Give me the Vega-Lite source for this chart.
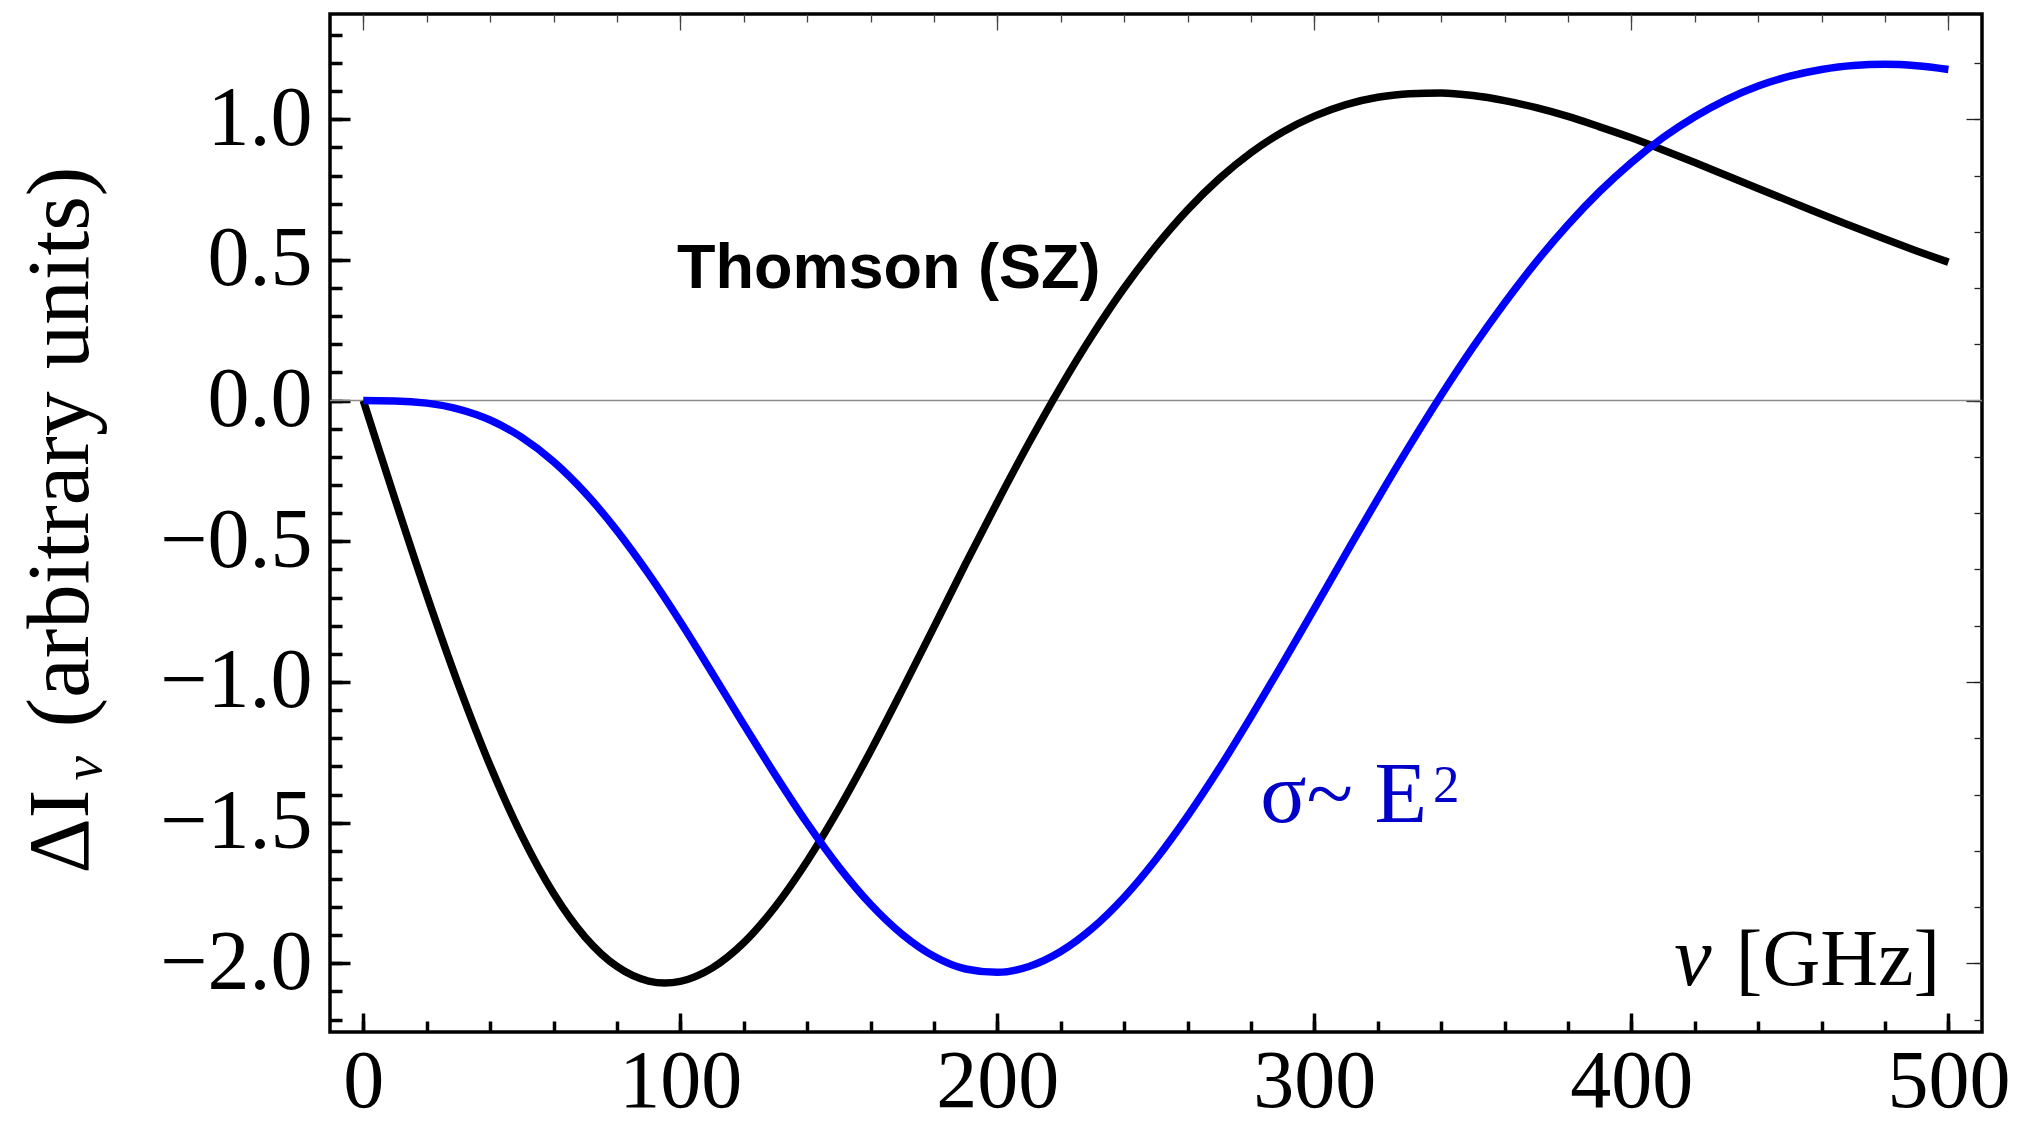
{
  "$schema": "https://vega.github.io/schema/vega-lite/v6.json",
  "width": 1652,
  "height": 1018,
  "autosize": "none",
  "padding": {"left": 330, "top": 14, "right": 41, "bottom": 91},
  "background": "#ffffff",
  "config": {
    "view": {"stroke": "#000000", "strokeWidth": 3.5},
    "axis": {"domain": false, "grid": false, "labelFont": "Liberation Serif", "labelFontSize": 84, "labelColor": "#000000", "titleColor": "#000000", "labelFlush": false}
  },
  "datasets": {
    "curves": [
      {"nu": 0, "v": 0, "s": "Thomson"},
      {"nu": 5, "v": -0.176, "s": "Thomson"},
      {"nu": 10, "v": -0.350, "s": "Thomson"},
      {"nu": 20, "v": -0.690, "s": "Thomson"},
      {"nu": 30, "v": -1.009, "s": "Thomson"},
      {"nu": 40, "v": -1.297, "s": "Thomson"},
      {"nu": 50, "v": -1.546, "s": "Thomson"},
      {"nu": 60, "v": -1.751, "s": "Thomson"},
      {"nu": 70, "v": -1.907, "s": "Thomson"},
      {"nu": 80, "v": -2.011, "s": "Thomson"},
      {"nu": 90, "v": -2.063, "s": "Thomson"},
      {"nu": 95, "v": -2.070, "s": "Thomson"},
      {"nu": 100, "v": -2.064, "s": "Thomson"},
      {"nu": 110, "v": -2.017, "s": "Thomson"},
      {"nu": 120, "v": -1.927, "s": "Thomson"},
      {"nu": 130, "v": -1.798, "s": "Thomson"},
      {"nu": 140, "v": -1.637, "s": "Thomson"},
      {"nu": 150, "v": -1.451, "s": "Thomson"},
      {"nu": 160, "v": -1.246, "s": "Thomson"},
      {"nu": 170, "v": -1.028, "s": "Thomson"},
      {"nu": 180, "v": -0.805, "s": "Thomson"},
      {"nu": 190, "v": -0.580, "s": "Thomson"},
      {"nu": 200, "v": -0.361, "s": "Thomson"},
      {"nu": 210, "v": -0.150, "s": "Thomson"},
      {"nu": 220, "v": 0.049, "s": "Thomson"},
      {"nu": 230, "v": 0.233, "s": "Thomson"},
      {"nu": 240, "v": 0.400, "s": "Thomson"},
      {"nu": 250, "v": 0.548, "s": "Thomson"},
      {"nu": 260, "v": 0.678, "s": "Thomson"},
      {"nu": 270, "v": 0.789, "s": "Thomson"},
      {"nu": 280, "v": 0.881, "s": "Thomson"},
      {"nu": 290, "v": 0.955, "s": "Thomson"},
      {"nu": 300, "v": 1.011, "s": "Thomson"},
      {"nu": 310, "v": 1.052, "s": "Thomson"},
      {"nu": 320, "v": 1.078, "s": "Thomson"},
      {"nu": 330, "v": 1.091, "s": "Thomson"},
      {"nu": 340, "v": 1.093, "s": "Thomson"},
      {"nu": 350, "v": 1.084, "s": "Thomson"},
      {"nu": 360, "v": 1.066, "s": "Thomson"},
      {"nu": 370, "v": 1.041, "s": "Thomson"},
      {"nu": 380, "v": 1.010, "s": "Thomson"},
      {"nu": 390, "v": 0.973, "s": "Thomson"},
      {"nu": 400, "v": 0.934, "s": "Thomson"},
      {"nu": 410, "v": 0.891, "s": "Thomson"},
      {"nu": 420, "v": 0.846, "s": "Thomson"},
      {"nu": 430, "v": 0.800, "s": "Thomson"},
      {"nu": 440, "v": 0.754, "s": "Thomson"},
      {"nu": 450, "v": 0.708, "s": "Thomson"},
      {"nu": 460, "v": 0.662, "s": "Thomson"},
      {"nu": 470, "v": 0.618, "s": "Thomson"},
      {"nu": 480, "v": 0.574, "s": "Thomson"},
      {"nu": 490, "v": 0.532, "s": "Thomson"},
      {"nu": 500, "v": 0.492, "s": "Thomson"},
      {"nu": 0, "v": 0, "s": "E2"},
      {"nu": 10, "v": -0.001, "s": "E2"},
      {"nu": 20, "v": -0.009, "s": "E2"},
      {"nu": 30, "v": -0.030, "s": "E2"},
      {"nu": 40, "v": -0.069, "s": "E2"},
      {"nu": 50, "v": -0.131, "s": "E2"},
      {"nu": 60, "v": -0.217, "s": "E2"},
      {"nu": 70, "v": -0.328, "s": "E2"},
      {"nu": 80, "v": -0.462, "s": "E2"},
      {"nu": 90, "v": -0.616, "s": "E2"},
      {"nu": 100, "v": -0.786, "s": "E2"},
      {"nu": 110, "v": -0.967, "s": "E2"},
      {"nu": 120, "v": -1.151, "s": "E2"},
      {"nu": 130, "v": -1.331, "s": "E2"},
      {"nu": 140, "v": -1.502, "s": "E2"},
      {"nu": 150, "v": -1.657, "s": "E2"},
      {"nu": 160, "v": -1.790, "s": "E2"},
      {"nu": 170, "v": -1.897, "s": "E2"},
      {"nu": 180, "v": -1.975, "s": "E2"},
      {"nu": 190, "v": -2.020, "s": "E2"},
      {"nu": 200, "v": -2.032, "s": "E2"},
      {"nu": 210, "v": -2.011, "s": "E2"},
      {"nu": 220, "v": -1.958, "s": "E2"},
      {"nu": 230, "v": -1.875, "s": "E2"},
      {"nu": 240, "v": -1.765, "s": "E2"},
      {"nu": 250, "v": -1.631, "s": "E2"},
      {"nu": 260, "v": -1.477, "s": "E2"},
      {"nu": 270, "v": -1.307, "s": "E2"},
      {"nu": 280, "v": -1.124, "s": "E2"},
      {"nu": 290, "v": -0.934, "s": "E2"},
      {"nu": 300, "v": -0.739, "s": "E2"},
      {"nu": 310, "v": -0.543, "s": "E2"},
      {"nu": 320, "v": -0.349, "s": "E2"},
      {"nu": 330, "v": -0.161, "s": "E2"},
      {"nu": 340, "v": 0.019, "s": "E2"},
      {"nu": 350, "v": 0.189, "s": "E2"},
      {"nu": 360, "v": 0.347, "s": "E2"},
      {"nu": 370, "v": 0.493, "s": "E2"},
      {"nu": 380, "v": 0.625, "s": "E2"},
      {"nu": 390, "v": 0.743, "s": "E2"},
      {"nu": 400, "v": 0.846, "s": "E2"},
      {"nu": 410, "v": 0.935, "s": "E2"},
      {"nu": 420, "v": 1.009, "s": "E2"},
      {"nu": 430, "v": 1.070, "s": "E2"},
      {"nu": 440, "v": 1.118, "s": "E2"},
      {"nu": 450, "v": 1.153, "s": "E2"},
      {"nu": 460, "v": 1.177, "s": "E2"},
      {"nu": 470, "v": 1.191, "s": "E2"},
      {"nu": 480, "v": 1.195, "s": "E2"},
      {"nu": 490, "v": 1.190, "s": "E2"},
      {"nu": 500, "v": 1.177, "s": "E2"}
    ]
  },
  "layer": [
    {
      "data": {"values": [{"v": 0}]},
      "mark": {"type": "rule", "color": "#8c8c8c", "strokeWidth": 1.5},
      "encoding": {
        "y": {"field": "v", "type": "quantitative", "scale": {"domain": [-2.244, 1.374], "nice": false, "zero": false}, "axis": null}
      }
    },
    {
      "data": {"name": "curves"},
      "mark": {"type": "line", "strokeWidth": 7.5, "interpolate": "monotone"},
      "encoding": {
        "x": {"field": "nu", "type": "quantitative", "scale": {"domain": [-10.5, 510.6], "nice": false, "zero": false},
          "axis": {"orient": "bottom", "values": [0, 100, 200, 300, 400, 500], "format": "d", "ticks": false, "tickSize": 0, "labelPadding": 9, "labelFontSize": 82, "title": null}},
        "y": {"field": "v", "type": "quantitative", "scale": {"domain": [-2.244, 1.374], "nice": false, "zero": false},
          "axis": {"orient": "left", "values": [-2, -1.5, -1, -0.5, 0, 0.5, 1], "format": ".1f", "ticks": false, "tickSize": 0, "labelPadding": 18,
            "title": "ΔI", "titleFont": "Liberation Serif", "titleFontSize": 86, "titleFontWeight": "normal", "titleAngle": 270, "titleAlign": "left", "titleBaseline": "alphabetic", "titleX": -243, "titleY": 859}},
        "color": {"field": "s", "type": "nominal", "scale": {"domain": ["Thomson", "E2"], "range": ["#000000", "#0000ff"]}, "legend": null},
        "order": {"field": "nu", "type": "quantitative"}
      }
    },
    {
      "data": {"name": "curves"},
      "mark": {"type": "point", "opacity": 0},
      "encoding": {
        "x": {"field": "nu", "type": "quantitative", "scale": {"domain": [-10.5, 510.6], "nice": false, "zero": false},
          "axis": {"orient": "bottom", "values": [0, 20, 40, 60, 80, 100, 120, 140, 160, 180, 200, 220, 240, 260, 280, 300, 320, 340, 360, 380, 400, 420, 440, 460, 480, 500], "labels": false, "title": null, "tickSize": 11, "offset": -11, "tickWidth": 3.5, "tickColor": "#000000"}},
        "y": {"field": "v", "type": "quantitative", "scale": {"domain": [-2.244, 1.374], "nice": false, "zero": false},
          "axis": {"orient": "left", "values": [-2.2, -2.1, -2.0, -1.9, -1.8, -1.7, -1.6, -1.5, -1.4, -1.3, -1.2, -1.1, -1.0, -0.9, -0.8, -0.7, -0.6, -0.5, -0.4, -0.3, -0.2, -0.1, 0, 0.1, 0.2, 0.3, 0.4, 0.5, 0.6, 0.7, 0.8, 0.9, 1.0, 1.1, 1.2, 1.3], "labels": false, "title": null, "tickSize": 12, "offset": -12, "tickWidth": 3.5, "tickColor": "#000000"}}
      }
    },
    {
      "data": {"name": "curves"},
      "mark": {"type": "point", "opacity": 0},
      "encoding": {
        "x": {"field": "nu", "type": "quantitative", "scale": {"domain": [-10.5, 510.6], "nice": false, "zero": false},
          "axis": {"orient": "bottom", "values": [0, 100, 200, 300, 400, 500], "labels": false, "title": null, "tickSize": 19, "offset": -19, "tickWidth": 3.5, "tickColor": "#000000"}},
        "y": {"field": "v", "type": "quantitative", "scale": {"domain": [-2.244, 1.374], "nice": false, "zero": false},
          "axis": {"orient": "left", "values": [-2, -1.5, -1, -0.5, 0, 0.5, 1], "labels": false, "title": null, "tickSize": 20, "offset": -20, "tickWidth": 3.5, "tickColor": "#000000"}}
      }
    },
    {
      "data": {"name": "curves"},
      "mark": {"type": "point", "opacity": 0},
      "encoding": {
        "x": {"field": "nu", "type": "quantitative", "scale": {"domain": [-10.5, 510.6], "nice": false, "zero": false},
          "axis": {"orient": "top", "values": [0, 20, 40, 60, 80, 100, 120, 140, 160, 180, 200, 220, 240, 260, 280, 300, 320, 340, 360, 380, 400, 420, 440, 460, 480, 500], "labels": false, "title": null, "tickSize": 8, "offset": -8, "tickWidth": 1.3, "tickColor": "#444444"}},
        "y": {"field": "v", "type": "quantitative", "scale": {"domain": [-2.244, 1.374], "nice": false, "zero": false},
          "axis": {"orient": "right", "values": [-2.2, -2.0, -1.8, -1.6, -1.4, -1.2, -1.0, -0.8, -0.6, -0.4, -0.2, 0, 0.2, 0.4, 0.6, 0.8, 1.0, 1.2], "labels": false, "title": null, "tickSize": 8, "offset": -8, "tickWidth": 1.3, "tickColor": "#222222"}}
      }
    },
    {
      "data": {"name": "curves"},
      "mark": {"type": "point", "opacity": 0},
      "encoding": {
        "x": {"field": "nu", "type": "quantitative", "scale": {"domain": [-10.5, 510.6], "nice": false, "zero": false},
          "axis": {"orient": "top", "values": [0, 100, 200, 300, 400, 500], "labels": false, "title": null, "tickSize": 16, "offset": -16, "tickWidth": 1.3, "tickColor": "#444444"}},
        "y": {"field": "v", "type": "quantitative", "scale": {"domain": [-2.244, 1.374], "nice": false, "zero": false},
          "axis": {"orient": "right", "values": [-2, -1, 0, 1], "labels": false, "title": null, "tickSize": 16, "offset": -16, "tickWidth": 1.3, "tickColor": "#222222"}}
      }
    },
    {
      "data": {"name": "curves"},
      "mark": {"type": "point", "opacity": 0},
      "encoding": {
        "x": {"field": "nu", "type": "quantitative", "scale": {"domain": [-10.5, 510.6], "nice": false, "zero": false}, "axis": null},
        "y": {"field": "v", "type": "quantitative", "scale": {"domain": [-2.244, 1.374], "nice": false, "zero": false},
          "axis": {"orient": "left", "labels": false, "ticks": false, "title": "(arbitrary units)", "titleFont": "Liberation Serif", "titleFontSize": 89, "titleFontWeight": "normal", "titleAngle": 270, "titleAlign": "left", "titleBaseline": "alphabetic", "titleX": -243, "titleY": 713}}
      }
    },
    {
      "data": {"name": "curves"},
      "mark": {"type": "point", "opacity": 0},
      "encoding": {
        "x": {"field": "nu", "type": "quantitative", "scale": {"domain": [-10.5, 510.6], "nice": false, "zero": false}, "axis": null},
        "y": {"field": "v", "type": "quantitative", "scale": {"domain": [-2.244, 1.374], "nice": false, "zero": false},
          "axis": {"orient": "left", "labels": false, "ticks": false, "title": "ν", "titleFont": "Liberation Serif", "titleFontSize": 55, "titleFontStyle": "italic", "titleFontWeight": "normal", "titleAngle": 270, "titleAlign": "left", "titleBaseline": "alphabetic", "titleX": -230, "titleY": 766}}
      }
    },
    {
      "data": {"values": [{"t": "Thomson (SZ)", "nu": 98.96, "v": 0.399}]},
      "mark": {"type": "text", "font": "Liberation Sans", "fontWeight": "bold", "fontSize": 63, "align": "left", "baseline": "alphabetic", "color": "#000000"},
      "encoding": {
        "x": {"field": "nu", "type": "quantitative", "scale": {"domain": [-10.5, 510.6], "nice": false, "zero": false}, "axis": null},
        "y": {"field": "v", "type": "quantitative", "scale": {"domain": [-2.244, 1.374], "nice": false, "zero": false}, "axis": null},
        "text": {"field": "t"}
      }
    },
    {
      "data": {"values": [{"t": "σ~ E", "nu": 282.9, "v": -1.497}]},
      "mark": {"type": "text", "font": "Liberation Serif", "fontSize": 86, "align": "left", "baseline": "alphabetic", "color": "#0000c8"},
      "encoding": {
        "x": {"field": "nu", "type": "quantitative", "scale": {"domain": [-10.5, 510.6], "nice": false, "zero": false}, "axis": null},
        "y": {"field": "v", "type": "quantitative", "scale": {"domain": [-2.244, 1.374], "nice": false, "zero": false}, "axis": null},
        "text": {"field": "t"}
      }
    },
    {
      "data": {"values": [{"t": "2", "nu": 337.4, "v": -1.4255}]},
      "mark": {"type": "text", "font": "Liberation Serif", "fontSize": 53, "align": "left", "baseline": "alphabetic", "color": "#0000c8"},
      "encoding": {
        "x": {"field": "nu", "type": "quantitative", "scale": {"domain": [-10.5, 510.6], "nice": false, "zero": false}, "axis": null},
        "y": {"field": "v", "type": "quantitative", "scale": {"domain": [-2.244, 1.374], "nice": false, "zero": false}, "axis": null},
        "text": {"field": "t"}
      }
    },
    {
      "data": {"values": [{"t": "ν", "nu": 413.5, "v": -2.077}]},
      "mark": {"type": "text", "font": "Liberation Serif", "fontSize": 84, "fontStyle": "italic", "align": "left", "baseline": "alphabetic", "color": "#000000"},
      "encoding": {
        "x": {"field": "nu", "type": "quantitative", "scale": {"domain": [-10.5, 510.6], "nice": false, "zero": false}, "axis": null},
        "y": {"field": "v", "type": "quantitative", "scale": {"domain": [-2.244, 1.374], "nice": false, "zero": false}, "axis": null},
        "text": {"field": "t"}
      }
    },
    {
      "data": {"values": [{"t": "[GHz]", "nu": 497.4, "v": -2.077}]},
      "mark": {"type": "text", "font": "Liberation Serif", "fontSize": 80, "align": "right", "baseline": "alphabetic", "color": "#000000"},
      "encoding": {
        "x": {"field": "nu", "type": "quantitative", "scale": {"domain": [-10.5, 510.6], "nice": false, "zero": false}, "axis": null},
        "y": {"field": "v", "type": "quantitative", "scale": {"domain": [-2.244, 1.374], "nice": false, "zero": false}, "axis": null},
        "text": {"field": "t"}
      }
    }
  ],
  "resolve": {"axis": {"x": "independent", "y": "independent"}}
}
